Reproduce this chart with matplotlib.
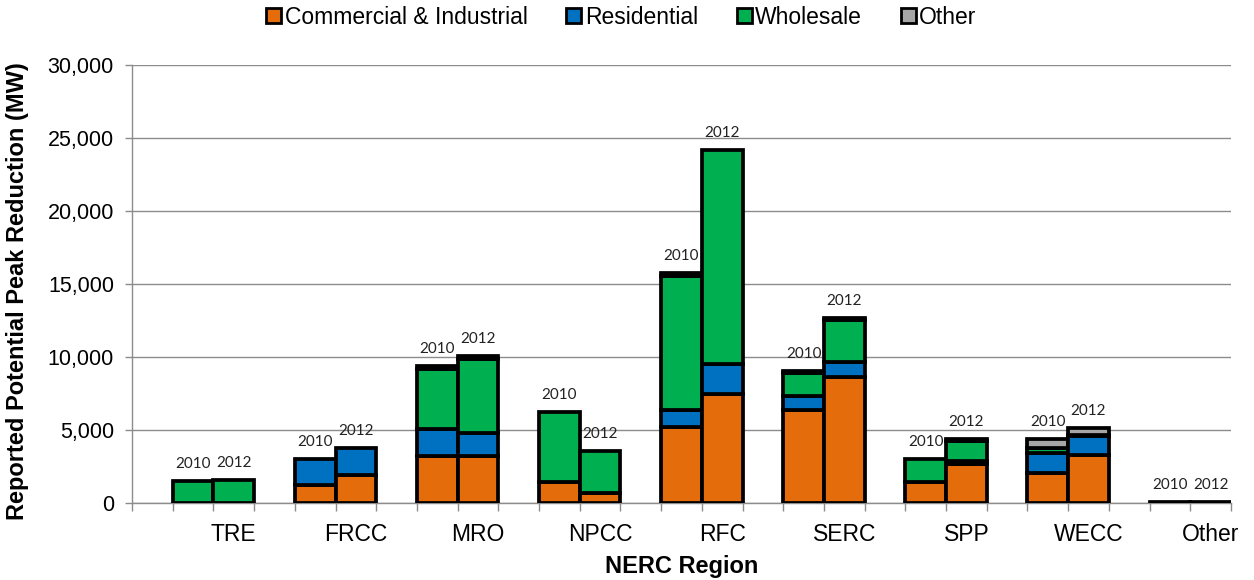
import matplotlib
matplotlib.use("Agg")
import matplotlib.pyplot as plt
from matplotlib.patches import Patch
from matplotlib.ticker import FuncFormatter, FixedLocator
import numpy as np

# Demand response potential peak reduction by NERC region (MW)
regions = ["TRE", "FRCC", "MRO", "NPCC", "RFC", "SERC", "SPP", "WECC", "Other"]
years = ["2010", "2012"]
segments = ["Commercial & Industrial", "Residential", "Wholesale", "Other"]

ci_2010 = [0, 1250, 3250, 1480, 5190, 6420, 1480, 2040, 60]
res_2010 = [0, 1800, 1820, 0, 1180, 910, 0, 1430, 0]
whl_2010 = [1520, 0, 4100, 4760, 9220, 1620, 1580, 340, 0]
oth_2010 = [0, 0, 250, 0, 160, 100, 0, 580, 0]

ci_2012 = [0, 1930, 3250, 680, 7470, 8650, 2680, 3280, 60]
res_2012 = [0, 1830, 1530, 0, 2090, 1020, 210, 1320, 0]
whl_2012 = [1610, 0, 5110, 2930, 14630, 2900, 1390, 60, 0]
oth_2012 = [0, 0, 180, 0, 0, 130, 110, 520, 0]

colors = ["#E46C0A", "#0070C0", "#00B050", "#A6A6A6"]

data = {
    "2010": [ci_2010, res_2010, whl_2010, oth_2010],
    "2012": [ci_2012, res_2012, whl_2012, oth_2012],
}

plt.rcParams["font.family"] = ["Liberation Sans", "DejaVu Sans"]

fig = plt.figure(figsize=(12.54, 5.80), dpi=100)
ax = fig.add_axes([132 / 1254, 1 - 503.3 / 580, (1231 - 132) / 1254, (503.3 - 65) / 580])

n = len(regions)
group = np.arange(n) * 3
bar_w = 1.0
edge_lw = 2.7

for k, yr in enumerate(years):
    x = group + 1.5 + k
    bottom = np.zeros(n)
    for seg_vals, col in zip(data[yr], colors):
        vals = np.array(seg_vals, dtype=float)
        mask = vals > 0
        ax.bar(x[mask], vals[mask], width=bar_w, bottom=bottom[mask], color=col,
               edgecolor="black", linewidth=edge_lw, zorder=3)
        bottom += vals
    for xi, top in zip(x, bottom):
        ax.annotate(yr, (xi, top), xytext=(0, 17), textcoords="offset pixels",
                    ha="center", va="center", fontsize=11, family=["Lato", "DejaVu Sans"],
                    color="#222222", zorder=4)

ax.set_xlim(0, 3 * n)
ax.set_ylim(0, 30000)
ax.set_yticks(np.arange(0, 30001, 5000))
ax.yaxis.set_major_formatter(FuncFormatter(lambda v, p: f"{int(v):,}"))
ax.grid(axis="y", color="#8C8C8C", linewidth=1.0, zorder=0)
ax.set_axisbelow(True)

ax.set_xticks(group + 2.5)
ax.set_xticklabels(regions)
ax.xaxis.set_minor_locator(FixedLocator(np.arange(0, 3 * n + 1)))
ax.tick_params(axis="x", which="major", length=0, pad=14, labelsize=16.5, colors="black")
ax.tick_params(axis="x", which="minor", length=5.5, width=1.0, color="#8C8C8C", direction="out")
ax.tick_params(axis="y", which="major", length=5, width=1.0, color="#8C8C8C", pad=8,
               labelsize=15.5)

for side in ["top", "right"]:
    ax.spines[side].set_visible(False)
ax.spines["left"].set_color("#8C8C8C")
ax.spines["bottom"].set_color("#8C8C8C")
ax.spines["left"].set_linewidth(1.0)
ax.spines["bottom"].set_linewidth(1.0)

fig.text(18 / 1254, 1 - 291.5 / 580, "Reported Potential Peak Reduction (MW)",
         rotation=90, ha="center", va="center", fontsize=17, fontweight="bold")
fig.text(681.5 / 1254, 1 - 566 / 580, "NERC Region", ha="center", va="center",
         fontsize=17, fontweight="bold")

handles = [Patch(facecolor=c, edgecolor="black", linewidth=2.0) for c in colors]
fig.legend(handles, segments, loc="center", bbox_to_anchor=(621.5 / 1254, 1 - 17 / 580),
           ncol=4, frameon=False, fontsize=16.5, handlelength=0.65, handleheight=0.65,
           handletextpad=0.15, columnspacing=1.7, borderaxespad=0, borderpad=0)

fig.savefig("out.png", dpi=100)
